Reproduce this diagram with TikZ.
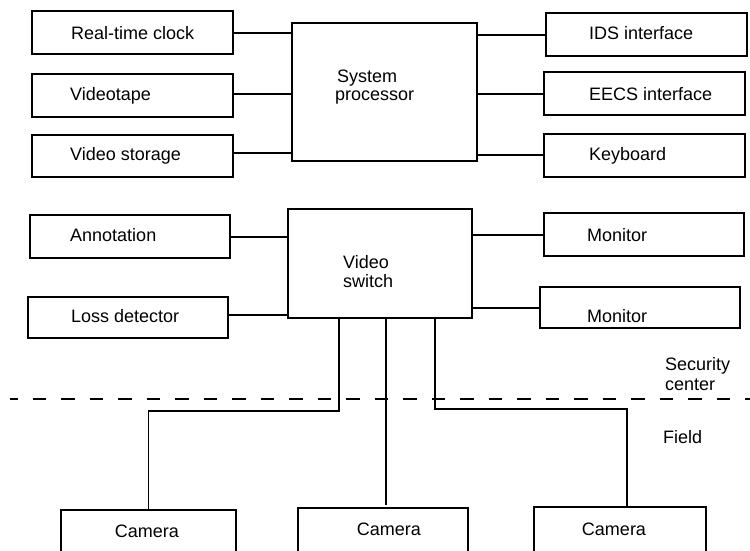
\documentclass[tikz,border=0pt]{standalone}
\usepackage{fontspec}
\setmainfont{Liberation Sans}
\usetikzlibrary{fit}
\begin{document}
\begin{tikzpicture}[x=1pt,y=-1pt,
  box/.style={draw, line width=1.5pt, inner sep=0pt, outer sep=0pt},
  wire/.style={line width=1.5pt},
  sep/.style={line width=1.5pt, dash pattern=on 13.5pt off 15pt, dash phase=6pt},
  lbl/.style={inner sep=0pt, anchor=base west, font=\fontsize{18}{20}\selectfont},
  clbl/.style={inner sep=0pt, anchor=base, font=\fontsize{18}{20}\selectfont}]
\useasboundingbox (0,0) rectangle (750,550);
\clip (0,0) rectangle (750,550);
% boxes
\node[box, fit={(32,11) (233,54)}] (rtc) {};
\node[box, fit={(32,74) (233,117)}] (vtape) {};
\node[box, fit={(32,135) (233,177)}] (vstor) {};
\node[box, fit={(546,13) (747,56)}] (ids) {};
\node[box, fit={(544,72) (745,115)}] (eecs) {};
\node[box, fit={(544,134) (745,177)}] (kbd) {};
\node[box, fit={(292,23) (477,161)}] (sysp) {};
\node[box, fit={(30,215) (230,258)}] (annot) {};
\node[box, fit={(28,297) (228,338)}] (loss) {};
\node[box, fit={(288,209) (472,318)}] (vsw) {};
\node[box, fit={(544,213) (744,256)}] (mon1) {};
\node[box, fit={(540,287) (740,328)}] (mon2) {};
\node[box, fit={(61,510) (236,560)}] (cam1) {};
\node[box, fit={(298,508) (468,560)}] (cam2) {};
\node[box, fit={(534,507) (706,560)}] (cam3) {};
% texts
\node[lbl] (trtc) at (71,39) {Real-time clock};
\node[lbl] (tvtape) at (70,100) {Videotape};
\node[lbl] (tvstor) at (70,160) {Video storage};
\node[lbl] (tids) at (589,39) {IDS interface};
\node[lbl] (teecs) at (589,100) {EECS interface};
\node[lbl] (tkbd) at (589,160) {Keyboard};
\node[lbl] (tsys1) at (337,82) {System};
\node[lbl] (tsys2) at (335,100) {processor};
\node[lbl] (tannot) at (70,241) {Annotation};
\node[lbl] (tloss) at (71,322) {Loss detector};
\node[lbl] (tvsw1) at (343,268) {Video};
\node[lbl] (tvsw2) at (343,287) {switch};
\node[lbl] (tmon1) at (587,241) {Monitor};
\node[lbl] (tmon2) at (587,322) {Monitor};
\node[lbl] (tsec1) at (665,370) {Security};
\node[lbl] (tsec2) at (665,390) {center};
\node[lbl] (tfield) at (663,443) {Field};
\node[clbl] (tcam1) at (147,537) {Camera};
\node[clbl] (tcam2) at (389,535) {Camera};
\node[clbl] (tcam3) at (614,535) {Camera};
% connectors: system processor
\draw[wire] ([yshift=-0.5pt]rtc.east) -- ([yshift=-0.5pt]rtc.east -| sysp.west);
\draw[wire] ([yshift=1.5pt]vtape.east) -- ([yshift=1.5pt]vtape.east -| sysp.west);
\draw[wire] ([yshift=3pt]vstor.east) -- ([yshift=3pt]vstor.east -| sysp.west);
\draw[wire] ([yshift=-0.5pt]ids.west -| sysp.east) -- ([yshift=-0.5pt]ids.west);
\draw[wire] ([yshift=-0.5pt]eecs.west -| sysp.east) -- ([yshift=-0.5pt]eecs.west);
\draw[wire] ([yshift=0.5pt]kbd.west -| sysp.east) -- ([yshift=0.5pt]kbd.west);
% connectors: video switch
\draw[wire] ([yshift=-0.5pt]annot.east) -- ([yshift=-0.5pt]annot.east -| vsw.west);
\draw[wire] ([yshift=2.5pt]loss.east) -- ([yshift=2.5pt]loss.east -| vsw.west);
\draw[wire] ([yshift=-0.5pt]mon1.west -| vsw.east) -- ([yshift=-0.5pt]mon1.west);
\draw[wire] ([yshift=-0.5pt]mon2.west -| vsw.east) -- ([yshift=-0.5pt]mon2.west);
% cameras
\coordinate (b1) at (339,411);
\coordinate (b3) at (435,409);
\coordinate (c3) at ([xshift=7pt]cam3.north);
\coordinate (c2) at ([xshift=3pt,yshift=3pt]cam2.north);
\draw[wire] (vsw.south -| b1) -- (b1) -- (b1 -| cam1.north) -- (cam1.north);
\draw[wire] (vsw.south -| c2) -- (c2);
\draw[wire] (vsw.south -| b3) -- (b3) -- (b3 -| c3) -- (c3);
% separator
\coordinate (s0) at (10,399);
\coordinate (s1) at (750,399);
\draw[sep] (s0) -- (s1);
\end{tikzpicture}
\end{document}
